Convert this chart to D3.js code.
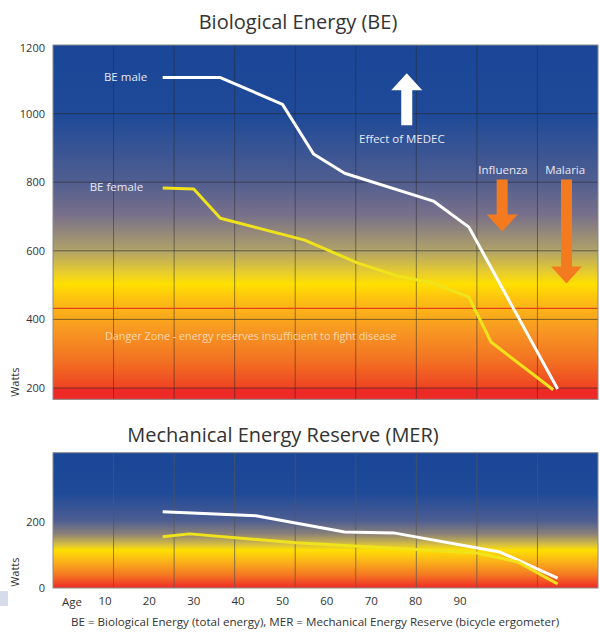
<!DOCTYPE html>
<meta charset="utf-8">
<script src="https://d3js.org/d3.v7.min.js"></script>
<style>
  body { margin: 0; background: #fff; }
  text { font-family: "Open Sans", "Noto Sans", sans-serif; }
</style>
<div id="chart"></div>
<script>

// ---- data ----
const ageTicks = [10, 20, 30, 40, 50, 60, 70, 80, 90]
const beTicks = [200, 400, 600, 800, 1000, 1200]
const merTicks = [0, 200]

const beMaleAge = [23, 36, 50, 57, 64, 84, 92, 112]
const beMaleW   = [1105, 1105, 1027, 882, 826, 745, 669, 197]
const beFemaleAge = [23, 30, 36, 55, 67, 76, 84, 92, 97, 111]
const beFemaleW   = [783, 780, 695, 631, 564, 526, 506, 465, 334, 195]

const merMaleAge = [23, 44, 64, 75, 99, 112]
const merMaleW   = [231, 219, 170, 167, 109, 30]
const merFemaleAge = [23, 29, 53, 94, 103, 112]
const merFemaleW   = [155, 164, 137, 106, 79, 12]

const dangerLevel = 432

// arrows: [age, from watts, to watts]
const medecArrow = [78, 966, 1118]
const fluArrow = [99.5, 808, 656]
const malariaArrow = [114, 808, 505]

const W = 600, H = 633

const svg = d3.select("#chart").append("svg")
    .attr("width", W)
    .attr("height", H)

// x: age, shared by both panels
const x = d3.scaleLinear().domain([10, 90]).range([105, 460])
const left = 53, right = 598
const cols = d3.scaleLinear().domain([0, 9]).range([left, right])

// y scales
const y = d3.scaleLinear().domain([200, 1200]).range([388, 45])
const y2 = d3.scaleLinear().domain([0, 200]).range([588, 522])

const defs = svg.append("defs")

function gradient(id, stops, y0, y1) {
    const g = defs.append("linearGradient")
        .attr("id", id)
        .attr("gradientUnits", "userSpaceOnUse")
        .attr("x1", 0).attr("x2", 0)
        .attr("y1", y0).attr("y2", y1)
    g.selectAll("stop").data(stops).join("stop")
        .attr("offset", d => d[0])
        .attr("stop-color", d => d[1])
}

const topY0 = y(1200), topY1 = y(167)
gradient("bgTop", [
    [0, "#1a4698"], [0.2, "#1f4a98"], [0.385, "#505e90"], [0.48, "#78708a"],
    [0.58, "#b0a268"], [0.64, "#e6cb30"], [0.675, "#ffe000"], [0.72, "#fdbf12"],
    [0.8, "#f89a22"], [0.89, "#f37222"], [0.97, "#ee4223"], [1, "#ec3224"]
], topY0, topY1)

const botY0 = y2(410), botY1 = y2(0)
gradient("bgBot", [
    [0, "#1a4698"], [0.3, "#1f4a98"], [0.5, "#4d5d92"], [0.6, "#8a8078"],
    [0.68, "#d8c040"], [0.72, "#ffe000"], [0.8, "#fbb418"], [0.9, "#f57a22"], [1, "#ee2a26"]
], botY0, botY1)

const line = d3.line().x(d => x(d[0]))

// ================= top panel =================
const topG = svg.append("g")

svg.append("text")
    .attr("x", 298).attr("y", 29)
    .attr("text-anchor", "middle")
    .attr("font-size", 20)
    .attr("fill", "#333")
    .text("Biological Energy (BE)")

topG.append("rect")
    .attr("x", left).attr("y", topY0)
    .attr("width", right - left).attr("height", topY1 - topY0)
    .attr("fill", "url(#bgTop)")

// red band under 200
topG.append("rect")
    .attr("x", left).attr("y", y(200))
    .attr("width", right - left).attr("height", topY1 - y(200))
    .attr("fill", "#ed2a26")

// grid
topG.selectAll(".hgrid").data(beTicks.filter(d => d < 1200)).join("line")
    .attr("x1", left).attr("x2", right)
    .attr("y1", d => y(d)).attr("y2", d => y(d))
    .attr("stroke", "#2a2a2a").attr("stroke-opacity", 0.6)
topG.selectAll(".vgrid").data(d3.range(1, 9)).join("line")
    .attr("x1", d => cols(d)).attr("x2", d => cols(d))
    .attr("y1", topY0).attr("y2", topY1)
    .attr("stroke", "#2a2a2a").attr("stroke-opacity", 0.5)

topG.append("line")
    .attr("x1", left).attr("x2", right)
    .attr("y1", y(dangerLevel)).attr("y2", y(dangerLevel))
    .attr("stroke", "#e2401e").attr("stroke-width", 1.3)

topG.append("rect")
    .attr("x", left).attr("y", topY0)
    .attr("width", right - left).attr("height", topY1 - topY0)
    .attr("fill", "none").attr("stroke", "#8a8a8a")

// y ticks
svg.selectAll(".ytop").data(beTicks).join("text")
    .attr("x", 45).attr("y", d => y(d) + (d === 1200 ? 7 : 4))
    .attr("text-anchor", "end")
    .attr("font-size", 11)
    .attr("fill", "#333")
    .text(d => d)

svg.append("text")
    .attr("transform", "translate(19," + y(217) + ")rotate(-90)")
    .attr("text-anchor", "middle")
    .attr("font-size", 11)
    .attr("fill", "#333")
    .text("Watts")

// lines
line.y(d => y(d[1]))
topG.append("path")
    .datum(d3.zip(beFemaleAge, beFemaleW))
    .attr("d", line)
    .attr("fill", "none").attr("stroke", "#f0e31c").attr("stroke-width", 3)
    .attr("stroke-linejoin", "round")
topG.append("path")
    .datum(d3.zip(beMaleAge, beMaleW))
    .attr("d", line)
    .attr("fill", "none").attr("stroke", "#fff").attr("stroke-width", 3)
    .attr("stroke-linejoin", "round")

// labels
const labelStyle = s => s.attr("font-size", 11.5).attr("fill", "#e8e8f4").attr("dominant-baseline", "middle")
topG.append("text").call(labelStyle)
    .attr("x", x(19.5)).attr("y", y(beMaleW[0]))
    .attr("text-anchor", "end").text("BE male")
topG.append("text").call(labelStyle)
    .attr("x", x(18.6)).attr("y", y(beFemaleW[0]))
    .attr("text-anchor", "end").text("BE female")
topG.append("text").call(labelStyle)
    .attr("x", x(76.9)).attr("y", y(922))
    .attr("text-anchor", "middle").text("Effect of MEDEC")
topG.append("text").call(labelStyle)
    .attr("x", x(99.7)).attr("y", y(832))
    .attr("text-anchor", "middle").text("Influenza")
topG.append("text").call(labelStyle)
    .attr("x", x(113.7)).attr("y", y(832))
    .attr("text-anchor", "middle").text("Malaria")
topG.append("text").call(labelStyle)
    .attr("x", x(10)).attr("y", y(349))
    .attr("font-size", 10.8)
    .attr("fill", "#fde2c4").attr("fill-opacity", 0.9)
    .text("Danger Zone - energy reserves insufficient to fight disease")

// arrows
function arrow(a, color) {
    const cx = x(a[0]), ya = y(a[1]), yb = y(a[2])
    const dir = yb < ya ? -1 : 1
    const headLen = 17, headHalf = 15.5, shaftHalf = 5.5
    const yh = yb - dir * headLen
    const pts = [
        [cx - shaftHalf, ya], [cx - shaftHalf, yh], [cx - headHalf, yh],
        [cx, yb], [cx + headHalf, yh], [cx + shaftHalf, yh], [cx + shaftHalf, ya]
    ]
    topG.append("path")
        .attr("d", "M" + pts.join("L") + "Z")
        .attr("fill", color)
}
arrow(medecArrow, "#fff")
arrow(fluArrow, "#f47a20")
arrow(malariaArrow, "#f47a20")

// ================= bottom panel =================
const botG = svg.append("g")

svg.append("text")
    .attr("x", 283).attr("y", 442)
    .attr("text-anchor", "middle")
    .attr("font-size", 20)
    .attr("fill", "#333")
    .text("Mechanical Energy Reserve (MER)")

botG.append("rect")
    .attr("x", left).attr("y", botY0)
    .attr("width", right - left).attr("height", botY1 - botY0)
    .attr("fill", "url(#bgBot)")

botG.selectAll(".vgrid").data(d3.range(1, 9)).join("line")
    .attr("x1", d => cols(d)).attr("x2", d => cols(d))
    .attr("y1", botY0).attr("y2", botY1)
    .attr("stroke", "#555").attr("stroke-opacity", 0.7)

botG.append("rect")
    .attr("x", left).attr("y", botY0)
    .attr("width", right - left).attr("height", botY1 - botY0)
    .attr("fill", "none").attr("stroke", "#8a8a8a")

svg.selectAll(".ybot").data(merTicks).join("text")
    .attr("x", 45).attr("y", d => y2(d) + 4)
    .attr("text-anchor", "end")
    .attr("font-size", 11)
    .attr("fill", "#333")
    .text(d => d)

svg.append("text")
    .attr("transform", "translate(19," + y2(48) + ")rotate(-90)")
    .attr("text-anchor", "middle")
    .attr("font-size", 11)
    .attr("fill", "#333")
    .text("Watts")

line.y(d => y2(d[1]))
botG.append("path")
    .datum(d3.zip(merMaleAge, merMaleW))
    .attr("d", line)
    .attr("fill", "none").attr("stroke", "#fff").attr("stroke-width", 3)
    .attr("stroke-linejoin", "round")
botG.append("path")
    .datum(d3.zip(merFemaleAge, merFemaleW))
    .attr("d", line)
    .attr("fill", "none").attr("stroke", "#f0e31c").attr("stroke-width", 3)
    .attr("stroke-linejoin", "round")

// age axis
svg.selectAll(".age").data(ageTicks).join("text")
    .attr("x", d => x(d)).attr("y", 605)
    .attr("text-anchor", "middle")
    .attr("font-size", 11.5)
    .attr("fill", "#333")
    .text(d => d)
svg.append("text")
    .attr("x", 72).attr("y", 606)
    .attr("text-anchor", "middle")
    .attr("font-size", 11.5)
    .attr("fill", "#333")
    .text("Age")

svg.append("rect")
    .attr("x", 0).attr("y", 591)
    .attr("width", 8).attr("height", 15)
    .attr("fill", "#d8dcea")

svg.append("text")
    .attr("x", 315).attr("y", 626)
    .attr("text-anchor", "middle")
    .attr("font-size", 11.6)
    .attr("fill", "#333")
    .text("BE = Biological Energy (total energy), MER = Mechanical Energy Reserve (bicycle ergometer)")

</script>
